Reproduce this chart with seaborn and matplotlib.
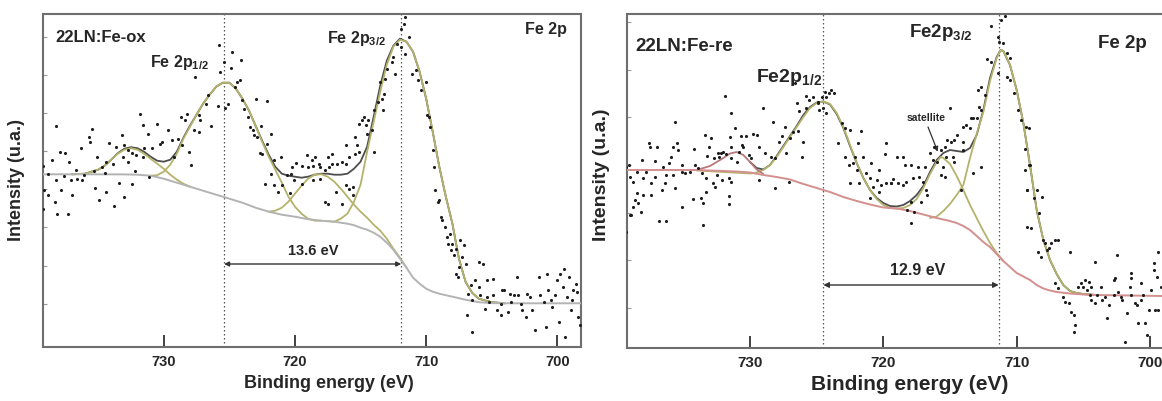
import matplotlib
matplotlib.use("Agg")
import matplotlib.pyplot as plt
import seaborn as sns
import pandas as pd

# ---------------- data: 22LN:Fe-ox (left panel) ----------------
ox_background = [(739.2, 172.4), (736, 172.4), (733, 172.3), (732, 172), (731, 171), (730, 168),
                 (729, 164), (728, 160), (727, 156), (726, 152), (725, 148), (724, 144), (723, 139),
                 (722, 135), (721, 132), (720, 130), (719, 127.5), (718, 126), (717, 125), (716, 123),
                 (715.5, 121.5), (715, 119), (714.5, 117), (714, 114), (713.5, 110), (713, 104),
                 (712.5, 97), (712, 88), (711.5, 79), (711, 69), (710.5, 63), (710, 58), (709.5, 55),
                 (709, 53), (708.5, 51.5), (708, 50), (707, 47), (706, 44.5), (705, 43.6), (704, 43.4),
                 (698.2, 43.4)]
ox_sat_733 = [(737, 172.4), (736, 173), (735, 177), (734.5, 181), (734, 187), (733.5, 193), (733, 197),
              (732.5, 198.5), (732, 197), (731.5, 193), (731, 188), (730.5, 183), (730, 178),
              (729.5, 172), (729, 167), (728.5, 163), (728, 160)]
ox_p12 = [(731, 171), (730.5, 171.5), (730, 175), (729.5, 182), (729, 193), (728.5, 208), (728, 220),
          (727.5, 232), (727, 243), (726.5, 252), (726, 260), (725.5, 264), (725, 264), (724.5, 258),
          (724, 248), (723.5, 236), (723, 221), (722.5, 205), (722, 190), (721.5, 177), (721, 164),
          (720.5, 150), (720, 140), (719.5, 133), (719, 128), (718.5, 126), (718, 126)]
ox_sat_718 = [(722, 135), (721.5, 136), (721, 139), (720.5, 145), (720, 153), (719.5, 161), (719, 168),
              (718.5, 172), (718, 172.5), (717.5, 170), (717, 165), (716.5, 158), (716, 150),
              (715.5, 142), (715, 135), (714.5, 129), (714, 122), (713.5, 116), (713, 108),
              (712.5, 98), (712, 89), (711.5, 79)]
ox_p32 = [(717.5, 125.5), (717, 125), (716.5, 128), (716, 133), (715.5, 145), (715, 162), (714.5, 195),
          (714, 225), (713.5, 255), (713, 282), (712.5, 300), (712, 307), (711.5, 305), (711, 295),
          (710.5, 275), (710, 248), (709.5, 215), (709, 180), (708.5, 150), (708, 123), (707.5, 88),
          (707, 65), (706.5, 54), (706, 48), (705, 44.5), (704, 43.4)]
ox_envelope = [(737, 172.4), (736, 173), (735, 177), (734.5, 181), (734, 187), (733.5, 193.5), (733, 198),
               (732.5, 199.5), (732, 198.5), (731.5, 195), (731, 190), (730.5, 186), (730, 185),
               (729.5, 187), (729, 195), (728.5, 209), (728, 221), (727.5, 232), (727, 243), (726.5, 252),
               (726, 260), (725.5, 264), (725, 264), (724.5, 258), (724, 248), (723.5, 236), (723, 221),
               (722.5, 206), (722, 192), (721.5, 180), (721, 173), (720.5, 171), (720, 170), (719.5, 169),
               (719, 170), (718.5, 172), (718, 173), (717.5, 173), (717, 172), (716.5, 172), (716, 173),
               (715.5, 178), (715, 185), (714.5, 200), (714, 230), (713.5, 261), (713, 286), (712.5, 301),
               (712, 308), (711.5, 305), (711, 295), (710.5, 275), (710, 248), (709.5, 215), (709, 180),
               (708.5, 150), (708, 123), (707.5, 88), (707, 65), (706.5, 54), (706, 48), (705, 44.5),
               (704, 43.4)]
ox_points = [
    (731.8, 233), (730.5, 223), (735.5, 218), (731.2, 213), (729.7, 217), (738.2, 221), (733.2, 212),
    (735.7, 210), (734.2, 204), (733.6, 200), (733.0, 202), (735.6, 205), (736.3, 199), (735.1, 190),
    (737.2, 185), (737.9, 195), (737.5, 194), (730.1, 205), (729.4, 207), (731.5, 199), (730.9, 199),
    (730.3, 203), (732.7, 197), (732.4, 194), (732.1, 192), (731.6, 190), (732.7, 185), (733.1, 190),
    (733.9, 183), (734.4, 185), (734.7, 180), (736.7, 177), (738.5, 187), (738.8, 173), (739.2, 181),
    (735.3, 176), (734.5, 174), (736.1, 172), (736.6, 168), (737.6, 171), (737.1, 167), (738.2, 167),
    (736.2, 167), (733.4, 164), (732.4, 163), (732.2, 176), (739.1, 157), (738.8, 152), (738.3, 145),
    (738.1, 133), (737.3, 133), (737.8, 157), (737.0, 152), (734.9, 147), (734.4, 155), (733.8, 141),
    (733.0, 150), (739.2, 138), (735.2, 159), (731.6, 222), (731.1, 170),
    (725.8, 302), (724.8, 295), (725.4, 285), (725.7, 275), (727.6, 270), (724.1, 287), (724.9, 279),
    (724.4, 265), (724.2, 267), (724.6, 260), (726.6, 252), (726.8, 243), (725.9, 241), (723.0, 248),
    (722.1, 246), (725.1, 243), (725.3, 239), (724.0, 247), (728.7, 230), (728.2, 233), (728.4, 227),
    (727.3, 232), (727.2, 227), (726.4, 221), (727.7, 217), (727.3, 215), (728.9, 208), (728.6, 202),
    (728.1, 195), (727.9, 182), (729.2, 190), (723.9, 238), (723.6, 230), (723.4, 220), (723.2, 217),
    (723.1, 212), (722.9, 210), (722.6, 221), (721.8, 213), (722.1, 203), (722.7, 194), (722.5, 193),
    (721.1, 190), (721.6, 187), (722.3, 163), (721.6, 162), (721.0, 162), (721.3, 155), (721.8, 173),
    (720.6, 172), (720.3, 173), (720.1, 167), (719.5, 163), (719.1, 192), (719.0, 180), (719.5, 181),
    (720.2, 180), (719.9, 184), (718.5, 190), (720.4, 154),
    (711.6, 330), (711.9, 318), (711.7, 323), (711.3, 310), (712.2, 303), (711.9, 300), (711.6, 293),
    (712.5, 290), (712.6, 285), (713.0, 278), (712.4, 273), (711.1, 273), (713.1, 268), (713.5, 265),
    (713.2, 253), (713.4, 248), (713.7, 245), (714.0, 237), (713.3, 237), (710.8, 277), (710.6, 267),
    (710.0, 265), (710.4, 257), (709.9, 232), (709.8, 230), (709.3, 157), (709.0, 147), (708.8, 127),
    (708.6, 120), (708.3, 103), (714.7, 230), (714.9, 227), (715.1, 223), (715.4, 210), (714.6, 222),
    (714.4, 227), (714.1, 217), (715.3, 202), (715.4, 193), (716.1, 202), (717.2, 193), (717.5, 190),
    (718.2, 183), (718.7, 187), (718.6, 181), (718.1, 180), (716.4, 185), (716.1, 183), (716.8, 183),
    (715.9, 190), (715.1, 195), (717.4, 180), (717.2, 183), (717.7, 177), (718.1, 168), (718.6, 167),
    (716.9, 155), (715.6, 160), (716.1, 162), (715.9, 158), (717.7, 145), (717.5, 143), (716.4, 143),
    (714.5, 213), (714.0, 195), (715.6, 152), (709.7, 220), (709.5, 197), (709.4, 180), (709.1, 145),
    (708.9, 130), (708.4, 110), (708.1, 97),
    (708.2, 113), (708.0, 103), (707.7, 98), (707.9, 92), (707.4, 107), (707.3, 90), (707.1, 102),
    (707.5, 80), (707.7, 73), (707.6, 70), (707.0, 83), (706.0, 85), (705.7, 83), (706.6, 62),
    (706.8, 53), (706.5, 47), (706.9, 32), (706.5, 15), (706.0, 60), (706.3, 67), (705.4, 67),
    (704.9, 68), (705.9, 52), (705.4, 50), (704.9, 52), (705.2, 45), (705.5, 38), (704.6, 37),
    (704.3, 43), (704.1, 57), (704.3, 32), (703.8, 35), (703.6, 53), (703.5, 45), (703.3, 52),
    (703.1, 70), (703.0, 52), (702.8, 43), (702.7, 37), (702.4, 30), (702.3, 53), (702.1, 50),
    (701.9, 37), (701.7, 17), (701.4, 70), (701.3, 52), (701.0, 45), (700.9, 20), (700.8, 73),
    (700.7, 57), (700.5, 47), (700.4, 40), (700.2, 52), (700.0, 67), (699.9, 25), (699.6, 60),
    (699.5, 78), (699.4, 10), (699.3, 50), (699.1, 70), (699.0, 37), (698.9, 47), (698.8, 57),
    (698.6, 63), (698.5, 55), (698.4, 30), (698.3, 22), (699.8, 73), (704.2, 57)]

# ---------------- data: 22LN:Fe-re (right panel) ----------------
re_background = [(739.3, 178), (734, 178), (733, 177.5), (732, 177), (731, 176.5), (730, 175.5), (729, 173),
                 (728, 171), (727, 168.5), (726, 164), (725, 160), (724, 156), (723, 151), (722, 147),
                 (721, 143.5), (720, 140.5), (719, 139.5), (718, 137), (717, 133.5), (716, 130), (715, 127),
                 (714.5, 125), (714, 122), (713.5, 118), (713, 112), (712.5, 106), (712, 101), (711.5, 94),
                 (711, 87), (710.5, 81), (710, 75), (709.5, 71.5), (709, 68), (708.5, 63), (708, 59.5),
                 (707.5, 57.5), (707, 56), (706, 54.5), (705, 53.5), (704, 53), (699.1, 52)]
re_sat_731 = [(734, 178), (733.5, 180), (733, 182), (732.5, 186), (732, 190), (731.5, 194.5), (731, 196),
              (730.5, 193), (730, 186), (729.5, 178.5), (729, 174)]
re_p12 = [(734, 177.5), (732, 176), (730, 174.5), (729.5, 175.5), (729, 178), (728.5, 183), (728, 191),
          (727.5, 201), (727, 211), (726.5, 221), (726, 231), (725.5, 240), (725, 245), (724.5, 246.5),
          (724, 244), (723.5, 235), (723, 221), (722.5, 203), (722, 185), (721.5, 170), (721, 158),
          (720.5, 149), (720, 143), (719.5, 140), (719, 139.5)]
re_satellite = [(719, 139.5), (718.5, 140), (718, 143), (717.5, 149), (717, 160), (716.5, 174), (716, 186),
                (715.7, 191), (715.5, 190), (715, 184), (714.5, 172), (714, 158), (713.5, 143), (713, 130),
                (712.5, 117), (712, 105), (711.5, 95), (711, 87)]
re_p32 = [(716.5, 130), (716, 131.5), (715.5, 137), (715, 144), (714.5, 153), (714, 163), (713.5, 190),
          (713, 214), (712.5, 236), (712, 267), (711.5, 290), (711.2, 298), (711, 297), (710.5, 283),
          (710, 258), (709.5, 225), (709, 183), (708.5, 138), (708, 108), (707.5, 88), (707, 74),
          (706.5, 63), (706, 57), (705.5, 55), (705, 54), (704, 53)]
re_envelope = [(730, 186), (729.5, 180), (729, 178.5), (728.5, 183), (728, 192), (727.5, 202), (727, 212),
               (726.5, 222), (726, 233), (725.5, 241), (725, 245.5), (724.5, 246.5), (724, 243.5),
               (723.5, 234), (723, 220), (722.5, 202), (722, 185), (721.5, 170), (721, 158), (720.5, 150),
               (720, 145), (719.5, 142), (719, 141.5), (718.5, 143), (718, 147), (717.5, 153), (717, 162),
               (716.5, 176), (716, 188), (715.5, 195), (715, 198), (714.5, 197), (714, 196), (713.5, 200),
               (713, 213), (712.5, 238), (712, 270), (711.5, 291), (711.2, 298), (711, 297), (710.5, 283),
               (710, 258), (709.5, 225), (709, 183), (708.5, 138), (708, 108), (707.5, 88), (707, 74),
               (706.5, 63), (706, 57), (705.5, 55), (705, 54), (704, 53)]
re_points = [
    (731.9, 252), (731.4, 235), (735.6, 226), (733.4, 213), (732.9, 210), (731.5, 211), (731.1, 220),
    (730.7, 212), (730.3, 212), (729.8, 214), (737.6, 205), (737.5, 201), (737.0, 201), (735.8, 201),
    (735.5, 205), (735.4, 198), (734.2, 199), (733.1, 201), (730.6, 203), (730.5, 201), (731.4, 201),
    (739.1, 183), (739.3, 181), (737.1, 187), (735.9, 191), (736.5, 181), (736.1, 185), (735.1, 183),
    (732.4, 195), (732.2, 195), (732.0, 196), (731.8, 194), (732.3, 191), (733.2, 192), (732.7, 190),
    (731.4, 190), (730.8, 196), (730.1, 193), (729.9, 190), (731.0, 186), (738.1, 188), (737.8, 176),
    (735.1, 176), (734.9, 175), (734.5, 176), (734.1, 183), (733.9, 180), (733.6, 175), (733.3, 170),
    (732.5, 173), (732.1, 168), (731.6, 170), (731.4, 166), (739.0, 171), (738.5, 176), (738.8, 166),
    (738.0, 170), (737.4, 165), (737.1, 171), (736.4, 165), (736.3, 173), (735.8, 173), (735.6, 160),
    (736.6, 158), (737.4, 153), (738.0, 153), (738.5, 155), (738.6, 148), (738.4, 145), (738.8, 141),
    (739.0, 133), (738.9, 133), (738.2, 136), (736.8, 127), (736.3, 127), (735.1, 141), (734.3, 149),
    (733.7, 150), (733.5, 145), (733.5, 123), (733.3, 156), (732.8, 165), (731.6, 144), (731.6, 152),
    (732.6, 161), (739.3, 116),
    (726.6, 265), (725.8, 252), (725.6, 248), (725.3, 251), (724.9, 246), (724.4, 256), (724.1, 255),
    (723.9, 258), (723.7, 255), (724.6, 251), (724.3, 251), (724.5, 240), (724.8, 238), (724.3, 235),
    (724.9, 245), (725.8, 240), (726.3, 237), (726.5, 245), (729.0, 240), (728.3, 226), (727.4, 221),
    (727.6, 212), (727.8, 206), (727.0, 210), (726.8, 216), (726.4, 217), (726.0, 206), (726.1, 191),
    (727.3, 195), (729.5, 213), (729.3, 201), (728.9, 195), (728.4, 191), (728.1, 190), (729.3, 168),
    (728.1, 160), (727.1, 166), (723.1, 225), (722.9, 220), (722.5, 218), (723.4, 205), (721.7, 217),
    (721.9, 205), (722.9, 191), (722.6, 183), (722.1, 191), (721.5, 191), (722.3, 185), (722.0, 178),
    (721.3, 175), (720.9, 185), (722.5, 165), (721.8, 165), (721.0, 170), (720.5, 168), (720.8, 161),
    (720.3, 178), (720.2, 163), (719.8, 165), (719.4, 165), (719.9, 194), (719.8, 205), (719.3, 169),
    (721.0, 150), (720.3, 156),
    (711.9, 322), (711.2, 328), (710.9, 332), (711.4, 311), (711.0, 305), (711.3, 306), (710.7, 295),
    (710.5, 290), (711.4, 275), (711.9, 286), (712.2, 289), (712.7, 261), (712.9, 258), (712.4, 253),
    (712.8, 241), (712.7, 238), (713.0, 230), (713.3, 230), (713.4, 230), (713.5, 220), (713.8, 223),
    (714.0, 221), (715.0, 240), (714.0, 206), (714.5, 213), (714.7, 208), (714.9, 206), (715.2, 208),
    (715.4, 201), (715.7, 198), (714.8, 191), (714.7, 186), (715.3, 191), (716.2, 201), (716.5, 195),
    (716.3, 188), (716.0, 186), (715.5, 181), (715.7, 173), (715.4, 171), (716.9, 181), (717.4, 181),
    (717.9, 183), (718.4, 183), (719.0, 191), (718.5, 191), (718.9, 165), (719.4, 165), (718.5, 163),
    (718.3, 166), (717.8, 170), (717.3, 171), (717.0, 166), (716.8, 158), (716.7, 153), (717.2, 146),
    (717.9, 146), (718.2, 138), (717.7, 136), (717.9, 125), (714.0, 198), (714.2, 158), (713.3, 175),
    (712.7, 181), (710.7, 271), (710.5, 268), (710.2, 255), (709.9, 238), (709.7, 228), (709.3, 221),
    (709.1, 183), (709.2, 158), (709.2, 121),
    (709.1, 220), (709.4, 199), (709.4, 178), (709.0, 183), (709.2, 158), (708.7, 150), (708.5, 158),
    (708.1, 151), (708.3, 135), (708.9, 120), (708.0, 108), (707.9, 105), (707.6, 100), (707.4, 105),
    (707.1, 108), (706.9, 108), (708.4, 96), (708.2, 91), (707.7, 98), (706.0, 96), (704.1, 86),
    (702.5, 93), (702.7, 68), (702.6, 70), (701.4, 75), (701.4, 70), (699.7, 85), (699.4, 96),
    (699.5, 71), (707.1, 65), (706.9, 60), (706.5, 51), (706.4, 46), (706.1, 45), (705.9, 36),
    (705.7, 33), (705.6, 23), (705.7, 16), (705.4, 61), (705.2, 65), (704.9, 68), (705.0, 61),
    (704.6, 66), (704.4, 61), (704.7, 58), (704.5, 53), (704.4, 48), (704.1, 45), (704.0, 53),
    (703.7, 61), (703.6, 48), (703.4, 51), (703.1, 43), (703.2, 30), (702.7, 53), (702.4, 56),
    (702.2, 51), (702.1, 48), (701.9, 6), (701.7, 35), (701.5, 61), (701.4, 53), (701.1, 45),
    (701.0, 43), (700.9, 25), (700.7, 48), (700.5, 53), (700.4, 25), (700.2, 13), (700.1, 38),
    (699.9, 58), (699.6, 38), (699.4, 38), (699.2, 61), (699.7, 78), (700.7, 65)]

x_ticks = [730, 720, 710, 700]
ox_peaks = [725.4, 711.9]
re_peaks = [724.5, 711.35]
ox_split = "13.6 eV"
re_split = "12.9 eV"

# ---------------- style ----------------
sns.set_style("white")
plt.rcParams["font.family"] = ["Liberation Sans", "DejaVu Sans"]
plt.rcParams["font.weight"] = "bold"
plt.rcParams["mathtext.fontset"] = "custom"
plt.rcParams["mathtext.rm"] = "Liberation Sans:bold"
plt.rcParams["mathtext.bf"] = "Liberation Sans:bold"
plt.rcParams["mathtext.it"] = "Liberation Sans:bold"
plt.rcParams["mathtext.default"] = "rm"

OLIVE = "#b4b36c"
ENV = "#4d4d4d"
W, H = 1162, 401

fig = plt.figure(figsize=(W / 100, H / 100), dpi=100)
axL = fig.add_axes([43 / W, 1 - 346.7 / H, 538 / W, 332.7 / H])
axR = fig.add_axes([626.7 / W, 1 - 348 / H, 535.3 / W, 334 / H])


def df(pairs):
    return pd.DataFrame(pairs, columns=["E", "I"])


def line(ax, pairs, color, lw=1.2, z=2):
    d = df(pairs)
    sns.lineplot(data=d, x="E", y="I", ax=ax, color=color, lw=lw, sort=False,
                 estimator=None, zorder=z, legend=False)


def frame(ax, xlim, ylim, yticks, ticksize, right_spine=True):
    ax.set_xlim(*xlim)
    ax.set_ylim(*ylim)
    ax.set_xticks(x_ticks)
    ax.set_xticklabels([str(t) for t in x_ticks])
    ax.set_yticks(yticks)
    ax.set_yticklabels([])
    ax.tick_params(axis="x", direction="in", length=9, width=1.3, color="#333333",
                   labelsize=ticksize, pad=6, bottom=True, top=False)
    ax.tick_params(axis="y", direction="in", length=3, width=0.8, color="#999999", left=True)
    ax.set_xlabel("")
    ax.set_ylabel("")
    for s in ax.spines.values():
        s.set_color("#6e6e6e")
        s.set_linewidth(1.5)
    ax.spines["right"].set_visible(right_spine)


# ---------------- left panel ----------------
for e in ox_peaks:
    axL.axvline(e, color="#555555", lw=0.9, ls=(0, (1.2, 2.0)), zorder=1)
line(axL, ox_envelope, ENV, 1.3, 2)
for comp in (ox_sat_733, ox_p12, ox_sat_718, ox_p32):
    line(axL, comp, OLIVE, 1.3, 3)
line(axL, ox_background, "#b3b3b3", 1.4, 3)
p = df(ox_points)
sns.scatterplot(data=p, x="E", y="I", ax=axL, s=5, color="#1c1c1c", linewidth=0, zorder=4)
frame(axL, (739.2, 698.2), (0, 332.7), [43, 81, 120, 158, 196, 234, 272, 310], 10.5)

axL.text(738.25, 309.7, "22LN:Fe-ox", fontsize=12, va="center", ha="left")
axL.text(731.05, 280, r"Fe 2p$_{1/2}$", fontsize=11.5, va="baseline", ha="left")
axL.text(717.55, 303.7, r"Fe 2p$_{3/2}$", fontsize=11.5, va="baseline", ha="left")
axL.text(702.45, 312.7, "Fe 2p", fontsize=11.5, va="baseline", ha="left")
axL.text(718.6, 91.7, ox_split, fontsize=10.5, va="baseline", ha="center")
axL.annotate("", xy=(ox_peaks[1], 82.7), xytext=(ox_peaks[0], 82.7),
             arrowprops=dict(arrowstyle="<|-|>", color="#333333", lw=1.0, mutation_scale=7,
                             shrinkA=0, shrinkB=0))

# ---------------- right panel ----------------
for e in re_peaks:
    axR.axvline(e, color="#555555", lw=0.9, ls=(0, (1.2, 2.0)), zorder=1)
line(axR, re_envelope, ENV, 1.3, 2)
for comp in (re_p12, re_satellite, re_p32):
    line(axR, comp, OLIVE, 1.3, 3)
line(axR, re_sat_731, "#b8787a", 1.3, 3)
line(axR, re_background, "#d48f8f", 1.4, 3)
p = df(re_points)
sns.scatterplot(data=p, x="E", y="I", ax=axR, s=5, color="#1c1c1c", linewidth=0, zorder=4)
frame(axR, (739.25, 699.1), (0, 334), [40, 88, 135, 183, 231, 278, 326], 11, right_spine=False)

axR.text(738.6, 297.3, "22LN:Fe-re", fontsize=13.5, va="baseline", ha="left")
axR.text(729.55, 266.3, r"Fe2p$_{1/2}$", fontsize=14, va="baseline", ha="left")
axR.text(718.1, 310.7, r"Fe2p$_{3/2}$", fontsize=13.5, va="baseline", ha="left")
axR.text(703.9, 299.7, "Fe 2p", fontsize=13.5, va="baseline", ha="left")
axR.text(716.8, 227.3, "satellite", fontsize=7.5, va="baseline", ha="center")
axR.annotate("", xy=(715.92, 196.3), xytext=(716.65, 221),
             arrowprops=dict(arrowstyle="-|>", color="#333333", lw=0.9, mutation_scale=7,
                             shrinkA=0, shrinkB=0))
axR.text(717.45, 73, re_split, fontsize=11.5, va="baseline", ha="center")
axR.annotate("", xy=(re_peaks[1], 63), xytext=(re_peaks[0], 63),
             arrowprops=dict(arrowstyle="<|-|>", color="#333333", lw=1.0, mutation_scale=8,
                             shrinkA=0, shrinkB=0))

# axis titles
fig.text(329 / W, 1 - 383 / H, "Binding energy (eV)", fontsize=13, ha="center", va="center")
fig.text(910 / W, 1 - 385 / H, "Binding energy (eV)", fontsize=15, ha="center", va="center")
fig.text(17 / W, 1 - 180 / H, "Intensity (u.a.)", fontsize=13, rotation=90, ha="center", va="center")
fig.text(601 / W, 1 - 175 / H, "Intensity (u.a.)", fontsize=14, rotation=90, ha="center", va="center")

fig.savefig("out.png", dpi=100, facecolor="white")
